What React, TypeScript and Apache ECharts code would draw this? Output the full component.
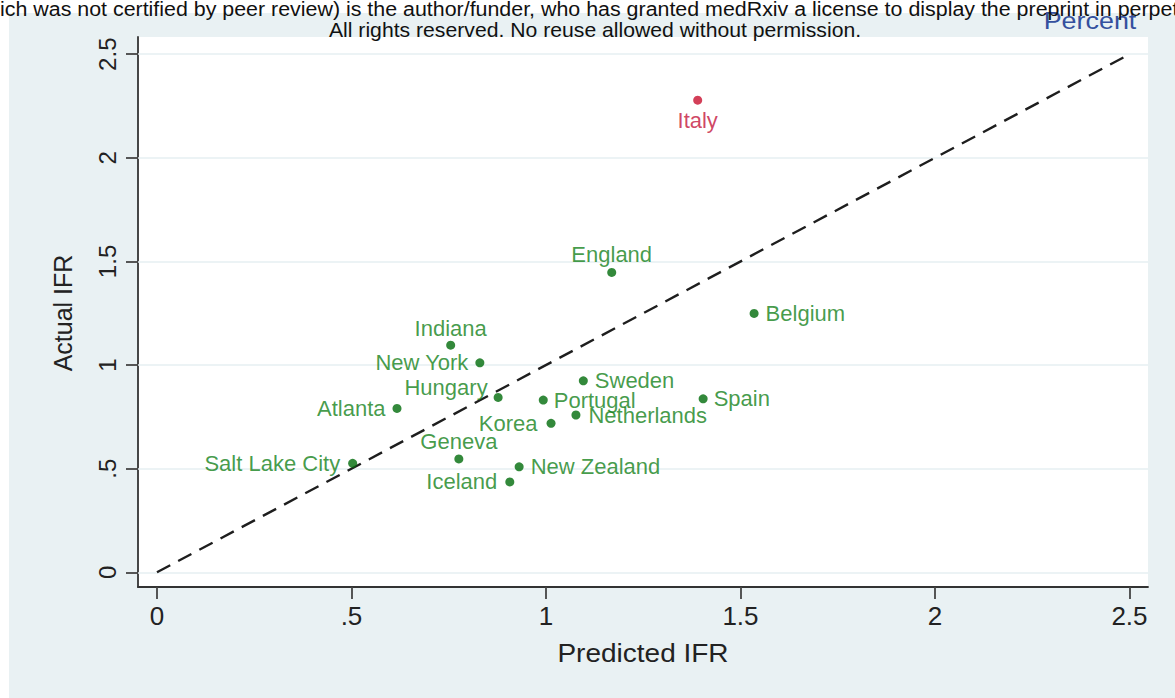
import React, { useEffect, useRef } from "react";
import * as echarts from "echarts";

const countries = [
  "Italy", "England", "Belgium", "Indiana", "New York", "Sweden", "Hungary", "Atlanta",
  "Portugal", "Spain", "Netherlands", "Korea", "Geneva", "Salt Lake City", "New Zealand", "Iceland",
];
const predictedIFR = [1.39, 1.169, 1.535, 0.755, 0.83, 1.096, 0.877, 0.617, 0.993, 1.404, 1.077, 1.013, 0.776, 0.503, 0.931, 0.907];
const actualIFR = [2.278, 1.447, 1.249, 1.096, 1.011, 0.924, 0.844, 0.791, 0.831, 0.837, 0.759, 0.719, 0.547, 0.526, 0.509, 0.436];
const highlighted = ["Italy"];
const tickValues = [0, 0.5, 1, 1.5, 2, 2.5];
const diagonal = [[0, 0], [2.5, 2.5]];

const FONT = "'Liberation Sans', Arial, sans-serif";
const GREEN_DOT = "#006b0a";
const GREEN_TEXT = "#14821a";
const RED_DOT = "#c80f2e";
const RED_TEXT = "#c4143c";

const placement: Record<string, [string, number, number[]?]> = {
  Italy: ["bottom", 5],
  England: ["top", 2],
  Belgium: ["right", 7],
  Indiana: ["top", 1],
  "New York": ["left", 7],
  Sweden: ["right", 7],
  Hungary: ["left", 6, [0, -10]],
  Atlanta: ["left", 7],
  Portugal: ["right", 6],
  Spain: ["right", 6],
  Netherlands: ["right", 8],
  Korea: ["left", 9],
  Geneva: ["top", 2],
  "Salt Lake City": ["left", 8],
  "New Zealand": ["right", 7],
  Iceland: ["left", 8],
};

const fmt = (v: number) => (v === 0 ? "0" : String(v).replace(/^0\./, "."));

export default function App() {
  const ref = useRef<HTMLDivElement>(null);
  useEffect(() => {
    if (!ref.current) return;
    const chart = echarts.init(ref.current, null, { renderer: "svg" });
    const points = countries.map((name, i) => {
      const red = highlighted.includes(name);
      const p = placement[name];
      return {
        name,
        value: [predictedIFR[i], actualIFR[i]],
        itemStyle: { color: red ? RED_DOT : GREEN_DOT },
        label: {
          show: true,
          formatter: name,
          position: p[0],
          distance: p[1],
          offset: p[2] || [0, 0],
          color: red ? RED_TEXT : GREEN_TEXT,
          fontSize: 22,
          fontFamily: FONT,
        },
      };
    });
    chart.setOption({
      animation: false,
      backgroundColor: "#e9f1f3",
      graphic: [
        { type: "rect", left: 0, top: 0, shape: { width: 9, height: 698 }, style: { fill: "#ffffff" }, z: -10 },
        { type: "rect", left: 0, top: 0, shape: { width: 1175, height: 13 }, style: { fill: "#ffffff" }, z: -10 },
        {
          type: "text", x: 0, y: 9, scaleX: 1.07,
          style: { text: "ich was not certified by peer review) is the author/funder, who has granted medRxiv a license to display the preprint in perpet", font: `20px ${FONT}`, fill: "#111", verticalAlign: "middle", align: "left" },
          z: 10,
        },
        {
          type: "text", x: 595, y: 30, scaleX: 1.06,
          style: { text: "All rights reserved. No reuse allowed without permission.", font: `20px ${FONT}`, fill: "#111", verticalAlign: "middle", align: "center" },
          z: 10,
        },
        {
          type: "text", x: 1090, y: 21, scaleX: 1.12,
          style: { text: "Percent", font: `24px ${FONT}`, fill: "#34509e", verticalAlign: "middle", align: "center" },
          z: 9,
        },
        {
          type: "text", x: 643, y: 654, scaleX: 1.12,
          style: { text: "Predicted IFR", font: `25px ${FONT}`, fill: "#222", verticalAlign: "middle", align: "center" },
        },
        {
          type: "text", x: 63, y: 313, rotation: Math.PI / 2,
          style: { text: "Actual IFR", font: `25px ${FONT}`, fill: "#222", verticalAlign: "middle", align: "center" },
        },
      ],
      grid: {
        left: 138, top: 37, right: 27, bottom: 111,
        show: true, backgroundColor: "#ffffff", borderWidth: 0,
      },
      xAxis: {
        type: "value",
        min: -0.0488, max: 2.5476,
        axisLine: { show: true, onZero: false, lineStyle: { color: "#333", width: 1.8 } },
        axisTick: { show: true, customValues: tickValues, length: 12, lineStyle: { color: "#444", width: 1.8 } },
        axisLabel: { customValues: tickValues, formatter: fmt, fontSize: 26, fontFamily: FONT, color: "#222", margin: 16 },
        splitLine: { show: false },
      },
      yAxis: {
        type: "value",
        min: -0.0709, max: 2.583,
        axisLine: { show: true, onZero: false, lineStyle: { color: "#333", width: 1.8 } },
        axisTick: { show: true, customValues: tickValues, length: 12, lineStyle: { color: "#444", width: 1.8 } },
        axisLabel: { customValues: tickValues, formatter: fmt, fontSize: 24, fontFamily: FONT, color: "#222", margin: 19, rotate: 90 },
        splitLine: { show: false },
      },
      series: [
        {
          type: "line",
          data: diagonal,
          showSymbol: false,
          silent: true,
          lineStyle: { color: "#1e1e1e", width: 2.4, type: [15, 9] },
          markLine: {
            silent: true,
            symbol: "none",
            label: { show: false },
            lineStyle: { color: "#e6eff2", width: 1.6, type: "solid" },
            data: tickValues.map((v) => ({ yAxis: v })),
            z: 1,
          },
          z: 3,
        },
        {
          type: "scatter",
          data: points,
          symbol: "circle",
          symbolSize: 9,
          z: 5,
        },
      ],
    });
    return () => chart.dispose();
  }, []);
  return <div ref={ref} style={{ position: "absolute", left: 0, top: 0, width: 1175, height: 698 }} />;
}
